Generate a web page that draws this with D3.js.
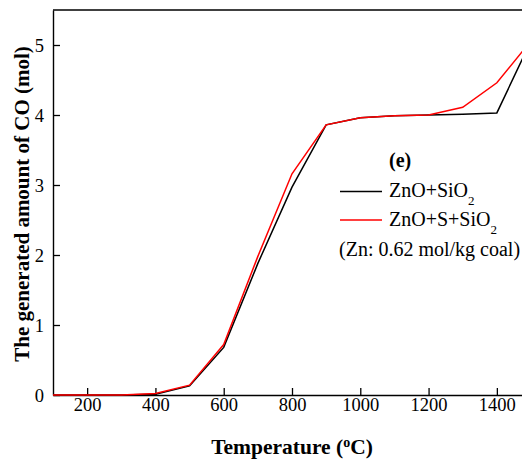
<!DOCTYPE html>
<html><head><meta charset="utf-8">
<script src="https://cdn.jsdelivr.net/npm/d3@7"></script>
<style>html,body{margin:0;padding:0;background:#fff;overflow:hidden}</style>
</head><body>
<script>
const temps = [100, 200, 300, 400, 500, 600, 700, 800, 900, 1000, 1100, 1200, 1300, 1400, 1500];
const znoSio2 = [0, 0, 0, 0.01, 0.13, 0.68, 1.88, 2.97, 3.86, 3.96, 3.99, 4.0, 4.01, 4.03, 5.06];
const znoSSio2 = [0, 0, 0, 0.02, 0.14, 0.72, 1.98, 3.16, 3.86, 3.96, 3.99, 4.0, 4.11, 4.46, 5.06];
const xTicks = [200, 400, 600, 800, 1000, 1200, 1400];
const yTicks = [0, 1, 2, 3, 4, 5];

const FONT = "Liberation Serif";
const W = 522, H = 463;
const svg = d3.select("body").append("svg").attr("width", W).attr("height", H)
  .attr("font-family", FONT);

const x = d3.scaleLinear().domain([100, 1500]).range([53, 531]);
const y = d3.scaleLinear().domain([0, 5.5]).range([395, 10]);

// top border
svg.append("line").attr("x1", 53).attr("x2", W + 5).attr("y1", y(5.5)).attr("y2", y(5.5))
  .attr("stroke", "#000").attr("stroke-width", 1.4);

const xAxis = svg.append("g").attr("transform", "translate(0,395)")
  .call(d3.axisBottom(x).tickValues(xTicks).tickFormat(d3.format("d")).tickSizeInner(-7).tickSizeOuter(0).tickPadding(3));
const yAxis = svg.append("g").attr("transform", "translate(53,0)")
  .call(d3.axisLeft(y).tickValues(yTicks).tickFormat(d3.format("d")).tickSizeInner(-7).tickSizeOuter(0).tickPadding(9));
[xAxis, yAxis].forEach(g => {
  g.attr("font-family", FONT).attr("font-size", 18.5);
  g.select(".domain").attr("stroke", "#000").attr("stroke-width", 1.4);
  g.selectAll(".tick line").attr("stroke", "#000").attr("stroke-width", 1.3);
  g.selectAll(".tick text").attr("fill", "#000").attr("font-family", FONT).attr("font-size", 18.5);
});
yAxis.selectAll(".tick text").attr("dy", "0.36em");

const line = d3.line().x((d, i) => x(temps[i])).y(d => y(d));
svg.append("path").datum(znoSio2).attr("d", line).attr("fill", "none")
  .attr("stroke", "#000").attr("stroke-width", 1.5);
svg.append("path").datum(znoSSio2).attr("d", line).attr("fill", "none")
  .attr("stroke", "#ff0000").attr("stroke-width", 1.5);

// axis titles
svg.append("text").attr("x", 292).attr("y", 454).attr("text-anchor", "middle")
  .attr("font-family", FONT).attr("font-size", 21.5).attr("font-weight", "bold")
  .html("Temperature (<tspan baseline-shift='super' font-size='14'>o</tspan>C)");
svg.append("text").attr("transform", "translate(29,204) rotate(-90)").attr("text-anchor", "middle")
  .attr("font-family", FONT).attr("font-size", 21).attr("font-weight", "bold")
  .text("The generated amount of CO (mol)");

// legend
svg.append("text").attr("x", 389).attr("y", 167).attr("font-family", FONT).attr("font-size", 20).attr("font-weight", "bold").text("(e)");
svg.append("line").attr("x1", 340).attr("x2", 382).attr("y1", 191.5).attr("y2", 191.5).attr("stroke", "#000").attr("stroke-width", 1.5);
svg.append("text").attr("x", 389).attr("y", 197).attr("font-family", FONT).attr("font-size", 20)
  .html("ZnO+SiO<tspan baseline-shift='sub' font-size='13'>2</tspan>");
svg.append("line").attr("x1", 340).attr("x2", 382).attr("y1", 220).attr("y2", 220).attr("stroke", "#ff0000").attr("stroke-width", 1.5);
svg.append("text").attr("x", 389).attr("y", 226).attr("font-family", FONT).attr("font-size", 20)
  .html("ZnO+S+SiO<tspan baseline-shift='sub' font-size='13'>2</tspan>");
svg.append("text").attr("x", 339).attr("y", 256).attr("font-family", FONT).attr("font-size", 20).text("(Zn: 0.62 mol/kg coal)");
</script>
</body></html>
